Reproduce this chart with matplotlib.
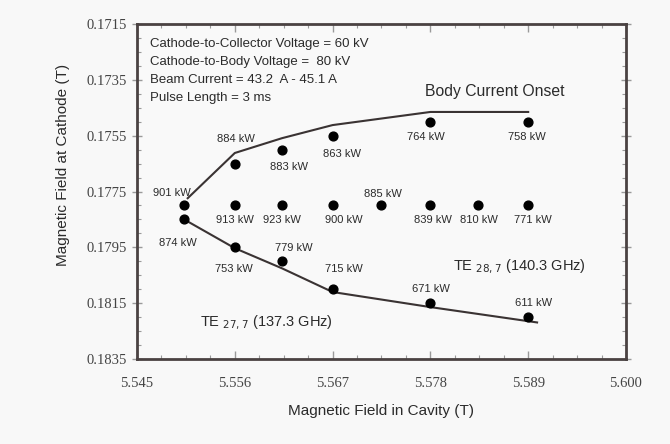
import matplotlib
matplotlib.use("Agg")
from matplotlib import pyplot as plt
from matplotlib.ticker import AutoMinorLocator, FixedLocator

# grid of operating points (cavity field, cathode field, output power)
b_cavity = [5.5503, 5.5503, 5.556, 5.5613, 5.567, 5.578, 5.589,
            5.556, 5.5613, 5.567, 5.5724, 5.578, 5.5834, 5.589,
            5.556, 5.5613, 5.567, 5.578, 5.589]
b_cathode = [0.1780, 0.1785, 0.1765, 0.1760, 0.1755, 0.1750, 0.1750,
             0.1780, 0.1780, 0.1780, 0.1780, 0.1780, 0.1780, 0.1780,
             0.1795, 0.1800, 0.1810, 0.1815, 0.1820]
power_kw = [901, 874, 884, 883, 863, 764, 758,
            913, 923, 900, 885, 839, 810, 771,
            753, 779, 715, 671, 611]

# body current onset boundary (upper) and TE27,7 / TE28,7 boundary (lower)
onset_x = [5.5507, 5.556, 5.5613, 5.567, 5.578, 5.589]
onset_y = [0.17774, 0.17612, 0.17559, 0.17512, 0.17465, 0.17465]
mode_x = [5.5503, 5.556, 5.5613, 5.567, 5.578, 5.590]
mode_y = [0.1785, 0.17953, 0.18025, 0.18110, 0.18164, 0.18219]

x_ticks = [5.545, 5.556, 5.567, 5.578, 5.589, 5.600]
y_ticks = [0.1715, 0.1735, 0.1755, 0.1775, 0.1795, 0.1815, 0.1835]

# label offsets from each point, in pixels (right, down)
label_off = [(-12, -12), (-6, 24), (1, -25), (7, 17), (9, 18), (-5, 15), (-1, 15),
             (0, 15), (0, 15), (11, 15), (2, -11), (3, 15), (1, 15), (5, 15),
             (-1, 22), (12, -13), (11, -20), (1, -14), (5, -14)]

ink = "#2b2b2b"
sans = "Liberation Sans"
serif = "Liberation Serif"

fig = plt.figure(figsize=(6.7, 4.44), dpi=100, facecolor="#f8f8f8")
ax = fig.add_axes([0.2045, 0.1914, 0.7298, 0.7545])
ax.set_facecolor("#f9f9f9")

ax.plot(onset_x, onset_y, color="#3a3333", lw=1.5)
ax.plot(mode_x, mode_y, color="#3a3333", lw=1.5)
ax.scatter(b_cavity, b_cathode, s=40, color="black", zorder=3)

pt = 72 / 100
for x, y, p, (dx, dy) in zip(b_cavity, b_cathode, power_kw, label_off):
    ax.annotate(f"{p} kW", (x, y), xytext=(dx * pt, -dy * pt), textcoords="offset points",
                ha="center", va="center", fontsize=8, family=sans, color=ink)

ax.set_xlim(5.545, 5.600)
ax.set_ylim(0.1835, 0.1715)
ax.xaxis.set_major_locator(FixedLocator(x_ticks))
ax.yaxis.set_major_locator(FixedLocator(y_ticks))
ax.set_xticklabels([f"{v:.3f}" for v in x_ticks])
ax.set_yticklabels([f"{v:.4f}" for v in y_ticks])
ax.xaxis.set_minor_locator(AutoMinorLocator(4))
ax.yaxis.set_minor_locator(AutoMinorLocator(4))
ax.tick_params(which="both", top=True, right=True, color="#9a9a9a")
ax.tick_params(axis="x", which="major", direction="in", length=6, width=1, pad=13)
ax.tick_params(axis="y", which="major", direction="inout", length=7, width=1, pad=4)
ax.tick_params(which="minor", direction="in", length=3, width=0.8)
for lab in ax.get_xticklabels() + ax.get_yticklabels():
    lab.set_family(serif)
    lab.set_fontsize(10.5)
    lab.set_color("#444444")
for s in ax.spines.values():
    s.set_linewidth(2)
    s.set_color("#4a4242")

ax.set_xlabel("Magnetic Field in Cavity (T)", family=sans, fontsize=11, color=ink, labelpad=10)
ax.set_ylabel("Magnetic Field at Cathode (T)", family=sans, fontsize=11, color=ink)
ax.yaxis.set_label_coords(-0.137, 0.579)

info = ["Cathode-to-Collector Voltage = 60 kV",
        "Cathode-to-Body Voltage =  80 kV",
        "Beam Current = 43.2  A - 45.1 A",
        "Pulse Length = 3 ms"]
for i, line in enumerate(info):
    ax.text(0.027, 0.94 - i * 0.0535, line, transform=ax.transAxes, ha="left", va="center",
            fontsize=9.5, family=sans, color=ink)

ax.text(0.588, 0.798, "Body Current Onset", transform=ax.transAxes, ha="left", va="center",
        fontsize=11.3, family=sans, color=ink)
ax.text(0.129, 0.107, r"TE $_{27,7}$ (137.3 GHz)", transform=ax.transAxes, ha="left", va="center",
        fontsize=10.5, family=sans, color=ink)
ax.text(0.646, 0.274, r"TE $_{28,7}$ (140.3 GHz)", transform=ax.transAxes, ha="left", va="center",
        fontsize=10.5, family=sans, color=ink)

fig.savefig("out.png", dpi=100, facecolor=fig.get_facecolor())
